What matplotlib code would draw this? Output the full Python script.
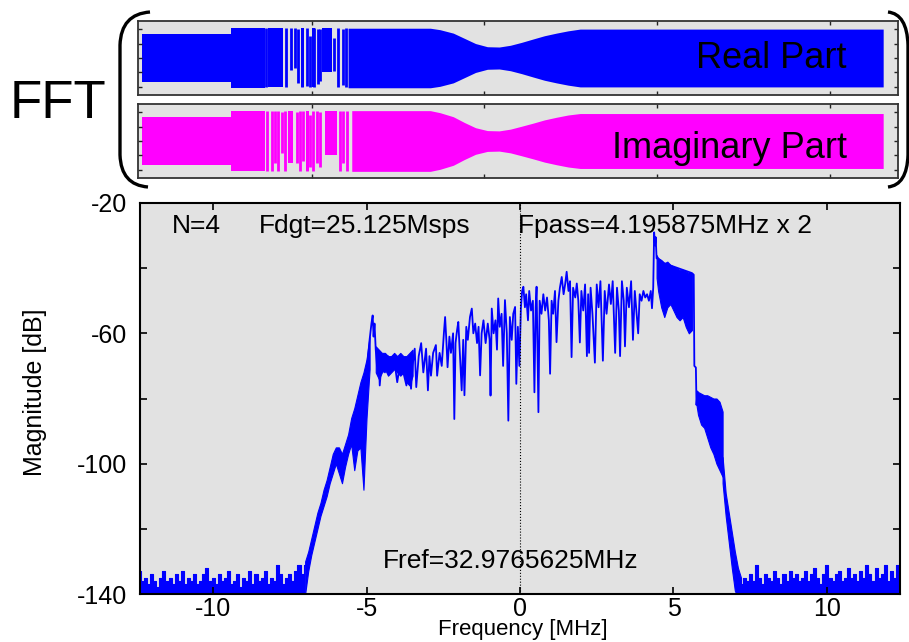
import numpy as np
import matplotlib
matplotlib.use("Agg")
import matplotlib.pyplot as plt
from matplotlib.path import Path
from matplotlib.patches import PathPatch

plt.rcParams['font.family'] = ['Liberation Sans', 'DejaVu Sans']
plt.rcParams['axes.unicode_minus'] = False

BLUE = '#0000ff'
MAGENTA = '#ff00ff'
PANEL_BG = '#e2e2e2'

# ---------------- spectrum (MHz, dB) ----------------
bin_step = 0.1

# noise floor, one value per 0.1 MHz bin
floor_left_start = -12.4
floor_left_db = [-133, -136, -135, -137, -134, -136, -138, -135, -133, -136,
                 -135, -137, -134, -136, -133, -137, -135, -136, -134, -137,
                 -136, -134, -132, -136, -135, -137, -134, -136, -135, -133,
                 -137, -136, -134, -138, -135, -136, -133, -137, -134, -136,
                 -135, -133, -137, -135, -136, -131, -134, -137, -135, -134,
                 -136, -133, -131, -134, -131]
floor_right_start = 7.2
floor_right_db = [-137, -135, -136, -134, -136, -131, -135, -137, -134, -135,
                  -136, -133, -135, -137, -134, -136, -133, -135, -134, -136,
                  -135, -133, -136, -134, -132, -135, -137, -134, -131, -135,
                  -136, -134, -133, -136, -135, -132, -135, -134, -136, -133,
                  -135, -131, -134, -136, -132, -135, -134, -131, -136, -133,
                  -135, -131, -134]

# dense parts of the trace: upper / lower edge
skirt_left_f = [-7.0, -6.9, -6.8, -6.7, -6.6, -6.5, -6.4, -6.3, -6.2, -6.1, -6.0,
                -5.9, -5.8, -5.7, -5.6, -5.5, -5.4, -5.3, -5.2, -5.1, -5.0, -4.9]
skirt_left_hi = [-130, -127, -123, -119, -115, -112, -108, -105, -101, -97, -95,
                 -95, -97, -94, -91, -86, -83, -79, -75, -72, -68, -61]
skirt_left_lo = [-140, -133, -128, -124, -120, -116, -113, -110, -106, -103, -100,
                 -103, -106, -101, -97, -94, -102, -96, -95, -108, -86, -71]

shelf_left_f = [-4.7, -4.6, -4.5, -4.4, -4.3, -4.2, -4.1, -4.0, -3.9, -3.8, -3.7, -3.6, -3.5]
shelf_left_hi = [-64, -65, -66, -66, -67, -67, -66, -67, -66, -67, -67, -66, -65]
shelf_left_lo = [-72, -74, -72, -71, -73, -72, -71, -72, -73, -72, -75, -76, -73]

peak_band_f = [4.45, 4.5, 4.6, 4.7, 4.8, 4.9, 5.0, 5.1, 5.2, 5.3, 5.4, 5.5, 5.6]
peak_band_hi = [-36, -37, -37.5, -38.5, -38, -39, -39.5, -40, -40.5, -40.5, -41, -41.5, -41.5]
peak_band_lo = [-43, -47, -52, -55, -52, -51, -53, -55, -56, -55, -58, -60, -59]

shelf_right_f = [5.75, 5.8, 5.9, 6.0, 6.1, 6.2, 6.3, 6.4, 6.5, 6.6]
shelf_right_hi = [-77.5, -78, -78.5, -79, -79, -79.5, -80, -80, -81, -84]
shelf_right_lo = [-82, -85, -88, -89, -92, -95, -97, -100, -102, -104]

fall_right_f = [6.6, 6.7, 6.8, 6.9, 7.0, 7.1, 7.2]
fall_right_hi = [-98, -109, -115, -121, -127, -132, -135]
fall_right_lo = [-106, -116, -124, -132, -139, -141, -141]

# thin trace through the pass band
trace_f = [-5.0, -4.9, -4.84, -4.8, -4.77, -4.74, -4.7, -4.66, -4.6, -4.57,
           -4.5, -4.4, -4.3, -4.2, -4.1, -4.0, -3.9, -3.8, -3.7, -3.62,
           -3.55, -3.5, -3.43, -3.38, -3.3, -3.22, -3.15, -3.06, -3.0, -2.95,
           -2.9, -2.83, -2.74, -2.7, -2.62, -2.55, -2.48, -2.44, -2.4, -2.36,
           -2.3, -2.25, -2.18, -2.14, -2.1, -2.05, -2.01, -1.96, -1.9, -1.85,
           -1.81, -1.75, -1.7, -1.63, -1.57, -1.52, -1.46, -1.4, -1.35, -1.3,
           -1.25, -1.19, -1.12, -1.05, -0.99, -0.96, -0.92, -0.86, -0.8, -0.75,
           -0.71, -0.66, -0.6, -0.55, -0.49, -0.43, -0.38, -0.33, -0.27, -0.22,
           -0.16, -0.12, -0.07, -0.02, 0.03, 0.07, 0.11, 0.16, 0.2, 0.26,
           0.3, 0.36, 0.42, 0.47, 0.51, 0.54, 0.6, 0.64, 0.7, 0.76,
           0.82, 0.88, 0.94, 0.98, 1.03, 1.08, 1.14, 1.19, 1.25, 1.3,
           1.36, 1.42, 1.47, 1.52, 1.58, 1.63, 1.68, 1.73, 1.8, 1.85,
           1.9, 1.95, 2.0, 2.06, 2.12, 2.18, 2.22, 2.25, 2.3, 2.36,
           2.44, 2.5, 2.56, 2.62, 2.7, 2.76, 2.82, 2.9, 2.96, 3.02,
           3.1, 3.16, 3.22, 3.26, 3.32, 3.38, 3.42, 3.48, 3.55, 3.62,
           3.68, 3.74, 3.8, 3.85, 3.9, 3.96, 4.02, 4.08, 4.14, 4.2,
           4.26, 4.3, 4.34, 4.37, 4.4, 4.42, 4.45, 4.5, 4.7, 5.0,
           5.3, 5.6, 5.66, 5.68, 5.73, 5.75, 5.78]
trace_db = [-72, -62, -57, -54.5, -61, -57, -65, -70, -67, -76,
            -68, -72, -67, -71, -68, -75, -69, -72, -76, -68,
            -77, -70, -64.7, -76.5, -67, -63, -72, -64.7, -77.5, -67,
            -73, -66, -63.6, -73, -66, -70, -60, -55, -62, -70.4,
            -61, -66, -60, -86.3, -63, -59, -56.5, -66, -77.5, -62,
            -79, -58, -62, -55, -52.4, -60, -57, -63, -58, -72.9,
            -60, -56, -63, -57, -62, -79.1, -52.4, -60, -56, -65,
            -49.3, -58, -54, -70, -49.8, -60, -86.8, -55, -62, -54,
            -51.9, -75.5, -58, -70, -52, -47, -45.7, -52, -48, -56,
            -47, -53, -50, -78.1, -52, -45.7, -84.2, -50, -54, -48,
            -53, -49, -56, -72.4, -50, -54, -47, -62.7, -50, -46,
            -42.7, -48, -45, -41.1, -47, -44, -67.3, -46, -49, -44.7,
            -50, -62.8, -47, -53, -45, -67, -48, -66, -46, -54,
            -69, -45, -52, -44, -68.4, -47, -54, -45, -51, -44,
            -66, -46, -53, -67, -44, -50, -64, -46, -52, -44,
            -62, -47, -54, -60, -48, -50, -47, -49, -48, -50,
            -47, -52.3, -46, -29, -33, -30.5, -37, -37, -38.5, -39.5,
            -40.5, -41.5, -42, -70, -70.5, -82, -78]

x_ticks = [-10, -5, 0, 5, 10]
y_ticks = [-140, -120, -100, -80, -60, -40, -20]
y_labels = ['-140', '', '-100', '', '-60', '', '-20']

# ---------------- FFT input (sample index, amplitude) ----------------
real_env_idx = [0, 120, 120, 166, 278, 389, 402, 420, 435, 450, 466, 482, 497,
                512, 528, 543, 559, 575, 591, 1000]
real_env_amp = [0.83, 0.83, 1.03, 1.03, 1.03, 1.03, 0.98, 0.86, 0.68, 0.5, 0.39, 0.38, 0.44,
                0.54, 0.66, 0.77, 0.86, 0.94, 1.0, 1.0]
real_gap = (166, 278)
real_blocks = [(170, 190, -1.0, 1.03), (243, 256, -0.48, 1.03), (214, 218, -1.0, 1.03),
               (230, 234, -1.0, 1.03)]
real_strokes = [(167, -1.0, 1.03), (194, -1.0, 1.03), (201, -0.4, 1.03), (206, -0.34, 1.03),
                (211, -0.85, 1.0), (216, -1.0, 1.03), (223, -0.97, 1.03), (227, -1.0, 0.75),
                (232, -1.0, 1.03), (237, -0.9, 1.0), (240, -0.8, 1.0), (259, -0.45, 0.7),
                (264, -1.0, 1.03), (271, -0.95, 1.0), (275, -1.0, 1.03)]

imag_env_idx = [0, 120, 120, 166, 283, 389, 402, 420, 435, 450, 466, 482, 497,
                512, 528, 543, 559, 575, 591, 1000]
imag_env_amp = [0.83, 0.83, 1.05, 1.05, 1.05, 1.05, 0.98, 0.84, 0.64, 0.46, 0.36, 0.35, 0.41,
                0.51, 0.62, 0.73, 0.82, 0.9, 0.95, 0.95]
imag_gap = (166, 283)
imag_blocks = [(197, 204, -0.75, 1.05), (247, 263, -0.5, 1.05), (221, 225, -1.05, 1.05)]
imag_strokes = [(168, -1.05, 1.05), (175, -1.05, 1.05), (180, -0.75, 1.05), (184, -1.05, 1.05),
                (189, -0.4, 1.0), (193, -1.05, 1.05), (209, -0.75, 1.0), (213, -1.05, 1.05),
                (217, -0.7, 1.05), (223, -1.05, 1.05), (227, -0.9, 0.9), (231, -1.05, 1.05),
                (236, -0.75, 1.05), (240, -0.9, 1.0), (267, -1.05, 1.05), (271, -0.75, 1.05),
                (277, -1.05, 1.05)]

W, H = 909, 642
fig = plt.figure(figsize=(W / 100, H / 100), dpi=100)


def box(l, t, r, b):
    return [l / W, 1 - b / H, (r - l) / W, (b - t) / H]


def draw_part(a, color, env_idx, env_amp, gap, blocks, strokes, label, label_y):
    idx = np.array(env_idx, float)
    amp = np.array(env_amp, float)
    left = idx <= gap[0]
    right = idx >= gap[1]
    a.fill_between(idx[left], -amp[left], amp[left], color=color, lw=0)
    a.fill_between(idx[right], -amp[right], amp[right], color=color, lw=0)
    for x0, x1, lo, hi in blocks:
        a.fill_between([x0, x1], [lo, lo], [hi, hi], color=color, lw=0)
    s = np.array(strokes, float)
    a.vlines(s[:, 0], s[:, 1], s[:, 2], color=color, lw=2.0)
    a.text(951, label_y, label, ha='right', va='baseline', fontsize=26, color='black')
    a.set_facecolor(PANEL_BG)
    a.set_xlim(-5.4, 1020)
    a.set_ylim(-1.28, 1.28)
    a.set_xticks([229, 462, 695, 928])
    a.set_yticks([-1, -0.5, 0, 0.5, 1])
    a.tick_params(direction='in', top=True, right=True, length=3, width=1,
                  labelbottom=False, labelleft=False, color='#222222')
    for sp in a.spines.values():
        sp.set_color('#333333')
        sp.set_linewidth(1.3)


ax_re = fig.add_axes(box(138, 21, 898, 95))
ax_im = fig.add_axes(box(138, 104, 898, 178))
draw_part(ax_re, BLUE, real_env_idx, real_env_amp, real_gap, real_blocks, real_strokes,
          'Real Part', -0.345)
draw_part(ax_im, MAGENTA, imag_env_idx, imag_env_amp, imag_gap, imag_blocks, imag_strokes,
          'Imaginary Part', -0.59)

# ---------------- spectrum axes ----------------
ax = fig.add_axes(box(140, 203, 900, 594))
ax.set_facecolor(PANEL_BG)

fl_f = floor_left_start + bin_step * np.arange(len(floor_left_db))
fr_f = floor_right_start + bin_step * np.arange(len(floor_right_db))
for f, db in [(fl_f, floor_left_db), (fr_f, floor_right_db)]:
    ax.fill_between(f, -141, db, step='mid', color=BLUE, lw=0)
    ax.step(f, db, where='mid', color=BLUE, lw=0.8)

for f, hi, lo in [(skirt_left_f, skirt_left_hi, skirt_left_lo),
                  (shelf_left_f, shelf_left_hi, shelf_left_lo),
                  (peak_band_f, peak_band_hi, peak_band_lo),
                  (shelf_right_f, shelf_right_hi, shelf_right_lo),
                  (fall_right_f, fall_right_hi, fall_right_lo)]:
    ax.fill_between(f, lo, hi, color=BLUE, lw=0.8, edgecolor=BLUE)

ax.plot(trace_f, trace_db, color=BLUE, lw=1.3)
ax.axvline(0, color='black', lw=0.8, ls=':')

ax.set_xlim(-12.38, 12.38)
ax.set_ylim(-140, -20)
ax.set_xticks(x_ticks)
ax.set_xticklabels([str(v) for v in x_ticks])
ax.set_yticks(y_ticks)
ax.set_yticklabels(y_labels)
ax.tick_params(direction='in', top=True, right=True, length=5, width=1.2, labelsize=18)
ax.tick_params(axis='x', pad=2)
ax.tick_params(axis='y', pad=9)
for sp in ax.spines.values():
    sp.set_linewidth(1.5)
    sp.set_color('black')

ax.text(-11.34, -29.1, 'N=4', fontsize=19, va='baseline')
ax.text(-8.5, -29.1, 'Fdgt=25.125Msps', fontsize=19, va='baseline')
ax.text(-0.07, -29.2, 'Fpass=4.195875MHz x 2', fontsize=19, va='baseline')
ax.text(-4.46, -131.9, 'Fref=32.9765625MHz', fontsize=19, va='baseline')

fig.text(35 / W, 1 - 392 / H, 'Magnitude [dB]', rotation=90, ha='center', va='center',
         fontsize=18)
fig.text(523 / W, 1 - 630 / H, 'Frequency [MHz]', ha='center', va='center', fontsize=16)
fig.text(10 / W, 1 - 118 / H, 'FFT', ha='left', va='baseline', fontsize=38)

# brackets around the two FFT panels
ov = fig.add_axes([0, 0, 1, 1])
ov.set_xlim(0, W)
ov.set_ylim(H, 0)
ov.axis('off')
ov.patch.set_alpha(0)
codes = [Path.MOVETO, Path.CURVE3, Path.CURVE3, Path.LINETO, Path.CURVE3, Path.CURVE3]
left_br = [(150, 12), (121, 14), (120, 45), (120, 155), (121, 185), (148, 187)]
right_br = [(888, 12), (907, 14), (908, 45), (908, 155), (907, 185), (888, 187)]
for verts in (left_br, right_br):
    ov.add_patch(PathPatch(Path(verts, codes), fill=False, lw=2.4, edgecolor='black'))

fig.savefig('out.png', dpi=100)
